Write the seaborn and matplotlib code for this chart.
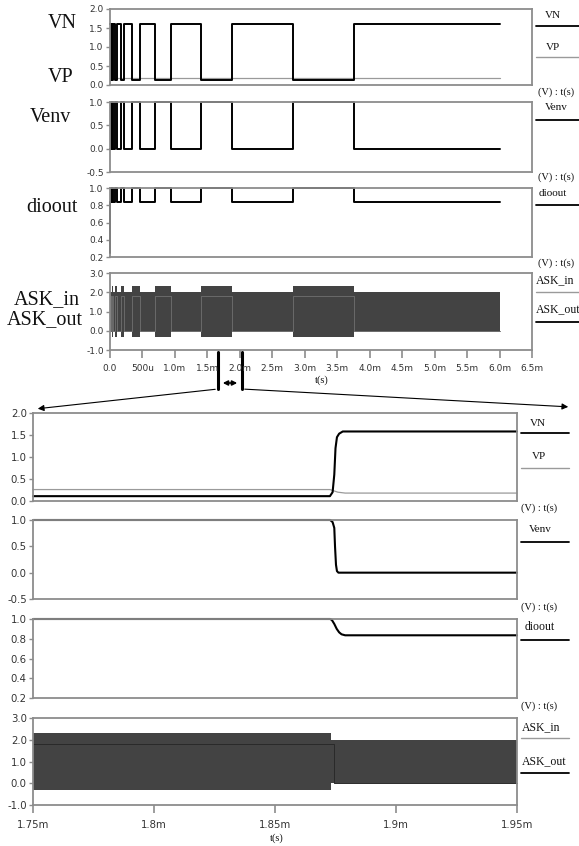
import matplotlib
matplotlib.use("Agg")
import matplotlib.pyplot as plt
import seaborn as sns
from matplotlib.lines import Line2D

W, H = 579, 846

# ---- overview, time in ms (step data, value holds until next time) ----
t_top = [0.0, 0.008, 0.017, 0.031, 0.046, 0.075, 0.104, 0.162, 0.22, 0.34,
         0.46, 0.69, 0.94, 1.40, 1.875, 2.82, 3.76, 6.0]
vn_top = [1.6, 0.13, 1.6, 0.13, 1.6, 0.13, 1.6, 0.13, 1.6, 0.13,
          1.6, 0.13, 1.6, 0.13, 1.6, 0.13, 1.6, 1.6]
vp_t_top = [0.0, 6.0]
vp_top = [0.18, 0.18]
venv_top = [0.0, 1.0, 0.0, 1.0, 0.0, 1.0, 0.0, 1.0, 0.0, 1.0,
            0.0, 1.0, 0.0, 1.0, 0.0, 1.0, 0.0, 0.0]
t_dio_top = [0.0, 0.003, 0.008, 0.017, 0.031, 0.046, 0.075, 0.104, 0.162, 0.22,
             0.34, 0.46, 0.69, 0.94, 1.40, 1.875, 2.82, 3.76, 6.0]
dio_top = [0.25, 0.84, 1.0, 0.84, 1.0, 0.84, 1.0, 0.84, 1.0, 0.84,
           1.0, 0.84, 1.0, 0.84, 1.0, 0.84, 1.0, 0.84, 0.84]
askin_hi_top = [2.0, 2.3, 2.0, 2.3, 2.0, 2.3, 2.0, 2.3, 2.0, 2.3,
                2.0, 2.3, 2.0, 2.3, 2.0, 2.3, 2.0, 2.0]
askin_lo_top = [0.0, -0.32, 0.0, -0.32, 0.0, -0.32, 0.0, -0.32, 0.0, -0.32,
                0.0, -0.32, 0.0, -0.32, 0.0, -0.32, 0.0, 0.0]
askout_top = [0.0, 1.8, 0.0, 1.8, 0.0, 1.8, 0.0, 1.8, 0.0, 1.8,
              0.0, 1.8, 0.0, 1.8, 0.0, 1.8, 0.0, 0.0]
top_xticks = [0.0, 0.5, 1.0, 1.5, 2.0, 2.5, 3.0, 3.5, 4.0, 4.5, 5.0, 5.5, 6.0, 6.5]
top_xlabels = ["0.0", "500u", "1.0m", "1.5m", "2.0m", "2.5m", "3.0m", "3.5m",
               "4.0m", "4.5m", "5.0m", "5.5m", "6.0m", "6.5m"]

# ---- zoom 1.75 ms .. 1.95 ms ----
t_vn_z = [1.75, 1.8727, 1.8738, 1.8745, 1.8750, 1.8756, 1.8765, 1.8780, 1.95]
vn_z = [0.11, 0.11, 0.2, 0.6, 1.2, 1.45, 1.53, 1.58, 1.58]
t_vp_z = [1.75, 1.8727, 1.8760, 1.8790, 1.95]
vp_z = [0.26, 0.26, 0.20, 0.18, 0.18]
t_venv_z = [1.75, 1.8728, 1.8738, 1.8745, 1.8748, 1.8752, 1.8756, 1.8762, 1.95]
venv_z = [1.0, 1.0, 0.96, 0.85, 0.5, 0.15, 0.03, 0.0, 0.0]
t_dio_z = [1.75, 1.8728, 1.8735, 1.8745, 1.8755, 1.8765, 1.8775, 1.8790, 1.95]
dio_z = [1.0, 1.0, 0.99, 0.95, 0.9, 0.865, 0.845, 0.835, 0.835]
t_ask_z = [1.75, 1.8732, 1.95]
askin_hi_z = [2.3, 2.0, 2.0]
askin_lo_z = [-0.32, 0.0, 0.0]
t_askout_z = [1.75, 1.8745, 1.95]
askout_z = [1.8, 0.0, 0.0]
z_xticks = [1.75, 1.80, 1.85, 1.90, 1.95]
z_xlabels = ["1.75m", "1.8m", "1.85m", "1.9m", "1.95m"]

SERIF = ["Liberation Serif", "DejaVu Serif"]
SPINE = "#8c8c8c"
FILL = "#434343"

sns.set_theme(style="white")
plt.rcParams["font.family"] = ["DejaVu Sans"]

fig = plt.figure(figsize=(W / 100, H / 100), dpi=100)

over = fig.add_axes([0, 0, 1, 1])
over.set_xlim(0, W)
over.set_ylim(H, 0)
over.axis("off")


def px_axes(l, t, r, b):
    return fig.add_axes([l / W, 1 - b / H, (r - l) / W, (b - t) / H])


def style(ax, ylim, yticks, fs):
    ax.set_ylim(*ylim)
    ax.set_yticks(yticks)
    ax.set_yticklabels([f"{v:.1f}" for v in yticks])
    for s in ax.spines.values():
        s.set_color(SPINE)
        s.set_linewidth(1.3)
    ax.tick_params(axis="y", left=True, length=3, width=1, color=SPINE,
                   labelsize=fs, labelcolor="#333333", pad=1.5)
    ax.set_xlabel("")
    ax.set_ylabel("")


def step(ax, x, y, color="black", lw=1.4, ds="steps-post"):
    sns.lineplot(x=x, y=y, ax=ax, color=color, linewidth=lw, drawstyle=ds,
                 estimator=None, sort=False, clip_on=False)


def ftext(x, y, s, size, ha="center"):
    fig.text(x / W, 1 - y / H, s, ha=ha, va="center", fontsize=size,
             family=SERIF, color="#111111")


def fline(x0, x1, y, color="black", lw=1.3):
    fig.add_artist(Line2D([x0 / W, x1 / W], [1 - y / H, 1 - y / H],
                          color=color, lw=lw, transform=fig.transFigure))


# ================= overview panels =================
L, R = 110, 532
a1 = px_axes(L, 9, R, 85)
step(a1, vp_t_top, vp_top, color="#9a9a9a", lw=0.9, ds="default")
step(a1, t_top, vn_top)
style(a1, (0, 2.0), [0.0, 0.5, 1.0, 1.5, 2.0], 6.5)

a2 = px_axes(L, 102, R, 172)
step(a2, t_top, venv_top)
style(a2, (-0.5, 1.0), [-0.5, 0.0, 0.5, 1.0], 6.5)

a3 = px_axes(L, 188, R, 257)
step(a3, t_dio_top, dio_top)
style(a3, (0.2, 1.0), [0.2, 0.4, 0.6, 0.8, 1.0], 6.5)

a4 = px_axes(L, 273, R, 350)
a4.fill_between(t_top, askin_lo_top, askin_hi_top, step="post", color=FILL, lw=0)
step(a4, t_top, askout_top, color="#6a6a6a", lw=0.7)
style(a4, (-1.0, 3.0), [-1.0, 0.0, 1.0, 2.0, 3.0], 6.5)

for ax in (a1, a2, a3, a4):
    ax.set_xlim(0, 6.5)
    ax.set_xticks([])
a4.set_xticks(top_xticks)
a4.set_xticklabels(top_xlabels)
a4.tick_params(axis="x", bottom=True, length=6, width=1.2, color=SPINE,
               labelsize=6.5, labelcolor="#333333", pad=4)
ftext(322, 380, "t(s)", 7.5)

# ================= zoomed panels =================
L2, R2 = 33, 517
b1 = px_axes(L2, 413, R2, 501)
step(b1, t_vp_z, vp_z, color="#9a9a9a", lw=0.9, ds="default")
step(b1, t_vn_z, vn_z, lw=1.5, ds="default")
style(b1, (0, 2.0), [0.0, 0.5, 1.0, 1.5, 2.0], 7.3)

b2 = px_axes(L2, 520, R2, 599)
step(b2, t_venv_z, venv_z, lw=1.5, ds="default")
style(b2, (-0.5, 1.0), [-0.5, 0.0, 0.5, 1.0], 7.3)

b3 = px_axes(L2, 619, R2, 698)
step(b3, t_dio_z, dio_z, lw=1.5, ds="default")
style(b3, (0.2, 1.0), [0.2, 0.4, 0.6, 0.8, 1.0], 7.3)

b4 = px_axes(L2, 718, R2, 805)
b4.fill_between(t_ask_z, askin_lo_z, askin_hi_z, step="post", color=FILL, lw=0)
step(b4, t_askout_z, askout_z, color="#2a2a2a", lw=0.7)
style(b4, (-1.0, 3.0), [-1.0, 0.0, 1.0, 2.0, 3.0], 7.3)

for ax in (b1, b2, b3, b4):
    ax.set_xlim(1.75, 1.95)
    ax.set_xticks([])
b4.set_xticks(z_xticks)
b4.set_xticklabels(z_xlabels)
b4.tick_params(axis="x", bottom=True, length=6, width=1.2, color=SPINE,
               labelsize=7.3, labelcolor="#333333", pad=5)
ftext(277, 838, "t(s)", 7.5)

# ================= signal names =================
ftext(62, 23, "VN", 14.5)
ftext(61, 77, "VP", 14.5)
ftext(50, 118, "Venv", 14.5)
ftext(52, 207, "dioout", 14.5)
ftext(47, 300, "ASK_in", 14.5)
ftext(45, 320, "ASK_out", 14.5)

# legend column, overview
ftext(553, 15, "VN", 8)
fline(536, 579, 26)
ftext(553, 47, "VP", 8)
fline(536, 579, 57, color="#9a9a9a", lw=1.0)
ftext(538, 92, "(V) : t(s)", 7.5, ha="left")
ftext(556, 108, "Venv", 8)
fline(536, 579, 120)
ftext(538, 177, "(V) : t(s)", 7.5, ha="left")
ftext(553, 193, "dioout", 8)
fline(536, 579, 205)
ftext(538, 263, "(V) : t(s)", 7.5, ha="left")
ftext(536, 280, "ASK_in", 8.5, ha="left")
fline(536, 579, 292, color="#9a9a9a", lw=1.0)
ftext(536, 309, "ASK_out", 8.5, ha="left")
fline(536, 579, 322)

# legend column, zoom
ftext(538, 423, "VN", 8)
fline(521, 569, 433)
ftext(539, 456, "VP", 8)
fline(521, 569, 468, color="#9a9a9a", lw=1.0)
ftext(521, 508, "(V) : t(s)", 7.5, ha="left")
ftext(540, 529, "Venv", 8)
fline(521, 569, 542)
ftext(521, 607, "(V) : t(s)", 7.5, ha="left")
ftext(525, 627, "dioout", 8.5, ha="left")
fline(521, 569, 640)
ftext(521, 706, "(V) : t(s)", 7.5, ha="left")
ftext(522, 727, "ASK_in", 8.5, ha="left")
fline(521, 569, 738, color="#9a9a9a", lw=1.0)
ftext(522, 761, "ASK_out", 8.5, ha="left")
fline(521, 569, 773)

# zoom bracket and arrows
over.plot([218, 218], [352, 389], color="black", lw=2.2)
over.plot([242, 242], [352, 389], color="black", lw=2.2)
over.annotate("", xy=(220, 383), xytext=(240, 383),
              arrowprops=dict(arrowstyle="<|-|>", color="black", lw=1.2, mutation_scale=7))
over.annotate("", xy=(35, 409), xytext=(218, 389),
              arrowprops=dict(arrowstyle="-|>", color="black", lw=0.8, mutation_scale=9))
over.annotate("", xy=(571, 407), xytext=(242, 389),
              arrowprops=dict(arrowstyle="-|>", color="black", lw=0.8, mutation_scale=9))

fig.savefig("out.png", dpi=100)
